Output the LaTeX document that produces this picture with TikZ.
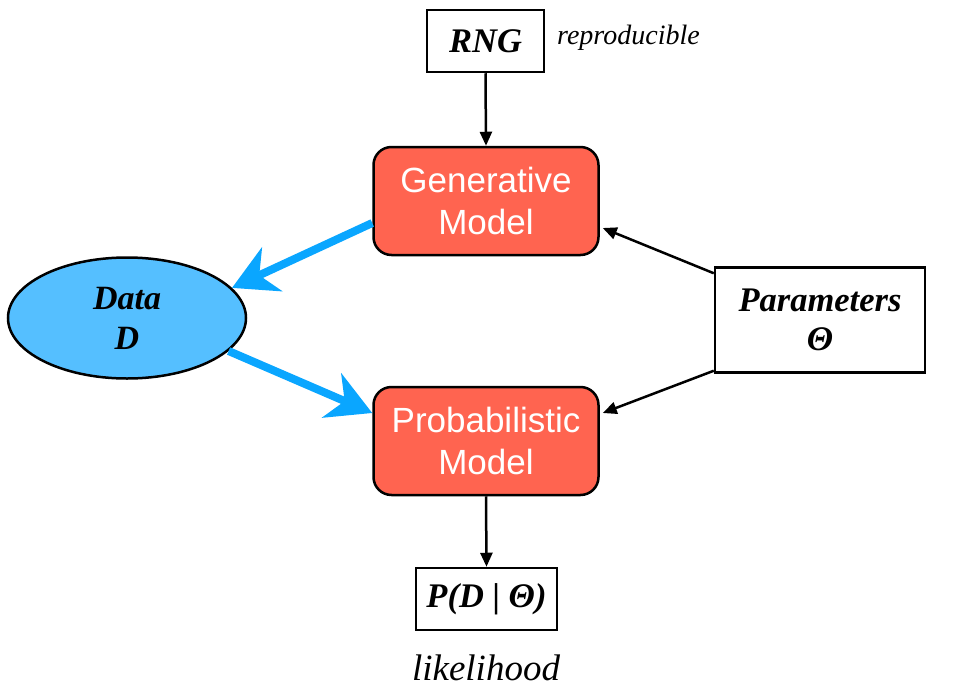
\documentclass[tikz,border=0pt]{standalone}
\usepackage{fontspec}
\setmainfont{Liberation Serif}
\newfontfamily\sansf{Liberation Sans}
\usetikzlibrary{arrows.meta,shapes.geometric}
\definecolor{boxred}{HTML}{FF6450}
\definecolor{datablue}{HTML}{55BFFF}
\definecolor{arrowblue}{HTML}{0AA6FF}
\begin{document}
\begin{tikzpicture}[x=1pt,y=-1pt,
 model/.style={draw=black, line width=2.5pt, fill=boxred, rounded corners=18pt, minimum width=225pt, minimum height=108pt, align=center, text=white, font=\sansf\fontsize{35}{41.5}\selectfont, inner sep=0pt},
 plainbox/.style={draw=black, line width=2.5pt, fill=white, align=center, inner sep=0pt, font=\bfseries\itshape\fontsize{34.5}{39}\selectfont},
 blackarrow/.style={-{Triangle[length=14pt,width=12pt]}, line width=2.5pt},
 bluearrow/.style={-{Stealth[length=44pt,width=48pt,inset=14pt]}, line width=8pt, draw=arrowblue},
 note/.style={font=\itshape, inner sep=0pt}
]
\useasboundingbox (0,0) rectangle (962,699);
\node[plainbox, minimum width=117pt, minimum height=62pt] (rng) at (485.5,41) {RNG};
\node[note, font=\itshape\fontsize{28}{32}\selectfont, anchor=west] (repr) at (557,38) {reproducible};
\node[model] (gen) at (486,201) {Generative\\Model};
\node[model] (prob) at (486,441) {Probabilistic\\Model};
\node[ellipse, draw=black, line width=2.5pt, fill=datablue, minimum width=238pt, minimum height=121pt, inner sep=0pt, align=center, font=\bfseries\itshape\fontsize{34}{40}\selectfont] (data) at (127,318) {Data\\D};
\node[plainbox, minimum width=210pt, minimum height=105pt] (par) at (820,320) {Parameters\\Θ};
\node[plainbox, minimum width=141pt, minimum height=62pt] (lik) at (486.5,599) {P(D | Θ)};
\node[note, font=\itshape\fontsize{37}{42}\selectfont] (likl) at (486,668) {likelihood};

\draw[blackarrow] (rng.south) -- (gen.north);
\draw[blackarrow] (prob.south) -- (lik.north);
\draw[blackarrow] ([yshift=-7pt]par.north west) -- ([xshift=3pt,yshift=-27pt]gen.east);
\draw[blackarrow] ([yshift=3pt]par.south west) -- ([xshift=3pt,yshift=28pt]prob.east);
\draw[bluearrow] ([yshift=-22pt]gen.west) -- (data.16);
\draw[bluearrow] (data.-18) -- ([yshift=28pt]prob.west);
\end{tikzpicture}
\end{document}
